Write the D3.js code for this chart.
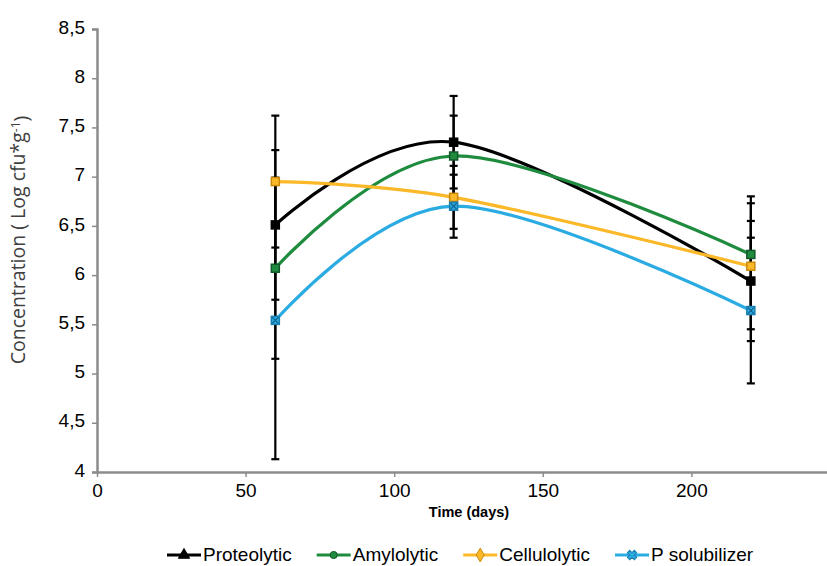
<!DOCTYPE html>
<html>
<head>
<meta charset="utf-8">
<script src="https://cdn.jsdelivr.net/npm/d3@7"></script>
<style>
  body { margin: 0; background: #fff; }
  svg { display: block; }
</style>
</head>
<body>
<div id="chart"></div>
<script>
// data
var days = [60, 120, 220];
var seriesNames = ["Proteolytic", "Amylolytic", "Cellulolytic", "P solubilizer"];
var proteolytic = [6.51, 7.35, 5.94];
var amylolytic = [6.07, 7.21, 6.21];
var cellulolytic = [6.95, 6.79, 6.09];
var pSolubilizer = [5.54, 6.70, 5.64];
var proteolyticErr = [0.76, 0.47, 0.61];
var amylolyticErr = [0.92, 0.41, 0.59];
var cellulolyticErr = [0.67, 0.32, 0.64];
var pSolubilizerErr = [1.41, 0.32, 0.74];
var xTickValues = [0, 50, 100, 150, 200];
var yTickValues = [4, 4.5, 5, 5.5, 6, 6.5, 7, 7.5, 8, 8.5];
var yTickLabels = ["4", "4,5", "5", "5,5", "6", "6,5", "7", "7,5", "8", "8,5"];

var colors = ["#000000", "#1e8b3e", "#fbb829", "#2aabe2"];
var markerStroke = ["#000000", "#12582a", "#c98a0a", "#1b7fb0"];
var legendSymbols = [d3.symbolTriangle, d3.symbolCircle, d3.symbolDiamond, d3.symbolCross];

var allValues = [proteolytic, amylolytic, cellulolytic, pSolubilizer];
var allErrors = [proteolyticErr, amylolyticErr, cellulolyticErr, pSolubilizerErr];

var width = 827, height = 566;
var svg = d3.select("#chart").append("svg")
    .attr("width", width)
    .attr("height", height);

var x = d3.scaleLinear().domain([0, 250]).range([97, 840]);
var y = d3.scaleLinear().domain([4, 8.5]).range([472, 29]);

var axisColor = "#8c8c8c";
var tickFont = "'Liberation Sans', Arial, sans-serif";

// y axis
var yAxis = svg.append("g")
    .attr("transform", "translate(" + x(0) + ",0)")
    .call(d3.axisLeft(y).tickValues(yTickValues).tickSize(5).tickPadding(7)
        .tickFormat(function(d, i){ return yTickLabels[i]; }));
yAxis.select(".domain").attr("stroke", axisColor).attr("stroke-width", 2.5);
yAxis.selectAll(".tick line").attr("stroke", axisColor).attr("stroke-width", 1.5);
yAxis.selectAll(".tick text")
    .attr("dy", "0.22em")
    .attr("fill", "#000")
    .style("font-family", tickFont)
    .style("font-size", "19px");

// x axis
var xAxis = svg.append("g")
    .attr("transform", "translate(0," + y(4) + ")")
    .call(d3.axisBottom(x).tickValues(xTickValues).tickSize(5).tickSizeOuter(0));
xAxis.select(".domain").attr("stroke", axisColor).attr("stroke-width", 2.5);
xAxis.selectAll(".tick line").attr("stroke", axisColor).attr("stroke-width", 1.5);
xAxis.selectAll(".tick text")
    .attr("y", 12)
    .attr("fill", "#000")
    .style("font-family", tickFont)
    .style("font-size", "19px");

// axis titles
svg.append("text")
    .attr("x", 469)
    .attr("y", 517)
    .attr("text-anchor", "middle")
    .style("font-family", "'Liberation Sans Narrow', 'Arial Narrow', 'Liberation Sans', sans-serif")
    .style("font-weight", "bold")
    .style("font-size", "14.5px")
    .text("Time (days)");

var yTitle = svg.append("text")
    .attr("transform", "translate(25,240) rotate(-90)")
    .attr("text-anchor", "middle")
    .attr("fill", "#404040")
    .style("font-family", "'Open Sans', sans-serif")
    .style("font-size", "19.5px");
yTitle.append("tspan").text("Concentration ( Log cfu*g");
yTitle.append("tspan").attr("dy", "-0.45em").style("font-size", "12px").text("-1");
yTitle.append("tspan").attr("dy", "0.45em").text(")");

// smoothed lines
var line = d3.line()
    .x(function(d){ return x(d[0]); })
    .y(function(d){ return y(d[1]); })
    .curve(d3.curveCardinal.tension(0));

allValues.forEach(function(vals, s){
    svg.append("path")
        .datum(days.map(function(d, i){ return [d, vals[i]]; }))
        .attr("d", line)
        .attr("fill", "none")
        .attr("stroke", colors[s])
        .attr("stroke-width", 3.2);
});

// error bars
allValues.forEach(function(vals, s){
    var g = svg.append("g").attr("stroke", "#000").attr("stroke-width", 2.2);
    days.forEach(function(d, i){
        var lo = y(vals[i] - allErrors[s][i]);
        var hi = y(vals[i] + allErrors[s][i]);
        g.append("line").attr("x1", x(d)).attr("x2", x(d)).attr("y1", lo).attr("y2", hi);
        g.append("line").attr("x1", x(d) - 4).attr("x2", x(d) + 4).attr("y1", lo).attr("y2", lo);
        g.append("line").attr("x1", x(d) - 4).attr("x2", x(d) + 4).attr("y1", hi).attr("y2", hi);
    });
});

// markers
allValues.forEach(function(vals, s){
    days.forEach(function(d, i){
        svg.append("rect")
            .attr("x", x(d) - 4)
            .attr("y", y(vals[i]) - 4)
            .attr("width", 8)
            .attr("height", 8)
            .attr("fill", colors[s])
            .attr("stroke", markerStroke[s])
            .attr("stroke-width", 1.5);
        if (s == 3) {
            svg.append("path")
                .attr("d", "M" + (x(d) - 3) + "," + (y(vals[i]) - 3) + "L" + (x(d) + 3) + "," + (y(vals[i]) + 3) +
                    "M" + (x(d) + 3) + "," + (y(vals[i]) - 3) + "L" + (x(d) - 3) + "," + (y(vals[i]) + 3))
                .attr("stroke", "#0d5f8a")
                .attr("stroke-width", 1.2);
        }
    });
});

// legend
var legendY = 555;
var lx = 167;
seriesNames.forEach(function(name, s){
    var g = svg.append("g").attr("transform", "translate(" + lx + "," + legendY + ")");
    g.append("line")
        .attr("x1", 0).attr("x2", 34)
        .attr("stroke", colors[s])
        .attr("stroke-width", 3.2);
    g.append("path")
        .attr("transform", "translate(17,0)" + (s == 3 ? " rotate(45)" : ""))
        .attr("d", d3.symbol().type(legendSymbols[s]).size(s == 1 ? 40 : 55))
        .attr("fill", colors[s])
        .attr("stroke", markerStroke[s])
        .attr("stroke-width", 1);
    var t = g.append("text")
        .attr("x", 36)
        .attr("y", 6)
        .style("font-family", tickFont)
        .style("font-size", "19px")
        .text(name);
    lx += 36 + t.node().getComputedTextLength() + 25;
});
</script>
</body>
</html>
